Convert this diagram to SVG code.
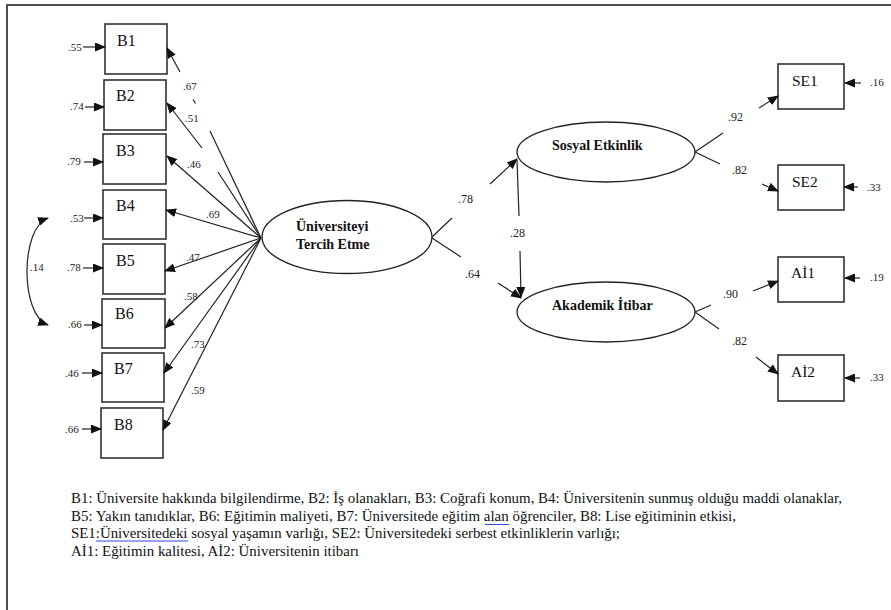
<svg xmlns="http://www.w3.org/2000/svg" width="891" height="610" viewBox="0 0 891 610">
<style>
text{font-family:'Liberation Serif','Tinos','DejaVu Serif','Times New Roman',serif}
.frame{fill:none;stroke:#4d4d4d;stroke-width:2}
.box{fill:#fff;stroke:#333;stroke-width:1.6}
.ell{fill:#fff;stroke:#222;stroke-width:1.3}
.ln{fill:none;stroke:#222;stroke-width:1.2}
.arr{marker-end:url(#ah)}
.bl{font-size:16px;fill:#111}
.lv{font-size:15.5px;fill:#111}
.nm{font-size:11px;fill:#222}
.nr{font-size:12px;fill:#222}
.bd{font-size:14px;font-weight:bold;fill:#111}
.ft{font-size:15px;fill:#111}
.ul{stroke:#3344dd;stroke-width:1}
</style>
<defs>
<marker id="ah" markerUnits="userSpaceOnUse" markerWidth="11" markerHeight="9" refX="10" refY="4.5" orient="auto-start-reverse" viewBox="0 0 11 9">
<path d="M0,0 L11,4.5 L0,9 z" fill="#111"/>
</marker>
</defs>
<path class="frame" d="M7,612 L7,5 L893,5"/>

<g id="B1"><rect class="box" x="105" y="24" width="62" height="50"/><text class="bl" x="117" y="46">B1</text></g>
<g id="B2"><rect class="box" x="104" y="80" width="62" height="50"/><text class="bl" x="116" y="101">B2</text></g>
<g id="B3"><rect class="box" x="103" y="134" width="63" height="50"/><text class="bl" x="116" y="156">B3</text></g>
<g id="B4"><rect class="box" x="103" y="190" width="63" height="49"/><text class="bl" x="116" y="211">B4</text></g>
<g id="B5"><rect class="box" x="103" y="244" width="62" height="50"/><text class="bl" x="116" y="266">B5</text></g>
<g id="B6"><rect class="box" x="102" y="299" width="63" height="49"/><text class="bl" x="115" y="319">B6</text></g>
<g id="B7"><rect class="box" x="102" y="353" width="62" height="49"/><text class="bl" x="114" y="374">B7</text></g>
<g id="B8"><rect class="box" x="101" y="408" width="62" height="50"/><text class="bl" x="114" y="430">B8</text></g>

<g id="UTE"><ellipse class="ell" cx="347" cy="237" rx="85" ry="36.5"/><text class="bd" x="296" y="231">Üniversiteyi</text><text class="bd" x="296" y="249">Tercih Etme</text></g>
<g id="SE"><ellipse class="ell" cx="606" cy="152" rx="89" ry="30"/><text class="bd" x="552" y="150">Sosyal Etkinlik</text></g>
<g id="AI"><ellipse class="ell" cx="606" cy="312" rx="89" ry="30"/><text class="bd" x="552" y="310">Akademik İtibar</text></g>

<g id="SE1"><rect class="box" x="778" y="64" width="66" height="45"/><text class="lv" x="792" y="86">SE1</text></g>
<g id="SE2"><rect class="box" x="778" y="165" width="66" height="45"/><text class="lv" x="792" y="187">SE2</text></g>
<g id="AI1"><rect class="box" x="778" y="257" width="66" height="45"/><text class="lv" x="791" y="278">Aİ1</text></g>
<g id="AI2"><rect class="box" x="778" y="355" width="66" height="46"/><text class="lv" x="791" y="377">Aİ2</text></g>

<g id="connectors">
<line class="ln arr" x1="83" y1="47" x2="105" y2="47"/>
<line class="ln arr" x1="85" y1="107" x2="104" y2="107"/>
<line class="ln arr" x1="84" y1="162" x2="103" y2="162"/>
<line class="ln arr" x1="84" y1="218" x2="103" y2="218"/>
<line class="ln arr" x1="83" y1="268" x2="103" y2="268"/>
<line class="ln arr" x1="84" y1="325" x2="102" y2="325"/>
<line class="ln arr" x1="82" y1="373" x2="102" y2="373"/>
<line class="ln arr" x1="82" y1="429" x2="101" y2="429"/>
<path class="ln" d="M48,218 C20,228 20,315 48,325" marker-start="url(#ah)" marker-end="url(#ah)"/>
<line class="ln" x1="261" y1="238" x2="210" y2="131"/>
<line class="ln" x1="193" y1="99.5" x2="195.5" y2="103.5"/>
<line class="ln arr" x1="180" y1="72" x2="167" y2="48"/>
<line class="ln" x1="261" y1="238" x2="218" y2="172"/>
<line class="ln arr" x1="202" y1="148" x2="167" y2="103"/>
<line class="ln arr" x1="261" y1="238" x2="167" y2="156"/>
<line class="ln arr" x1="261" y1="238" x2="166" y2="210"/>
<line class="ln arr" x1="261" y1="238" x2="165" y2="271"/>
<line class="ln arr" x1="261" y1="238" x2="165" y2="328"/>
<line class="ln arr" x1="261" y1="238" x2="164" y2="373"/>
<line class="ln arr" x1="261" y1="238" x2="163" y2="430"/>
<line class="ln" x1="432" y1="237" x2="452" y2="218"/>
<line class="ln arr" x1="490" y1="184" x2="517" y2="159"/>
<line class="ln" x1="432" y1="238" x2="461" y2="257"/>
<line class="ln arr" x1="498" y1="283" x2="521" y2="298"/>
<line class="ln" x1="517" y1="160" x2="519" y2="216"/>
<line class="ln arr" x1="520" y1="251" x2="521" y2="297"/>
<line class="ln" x1="695" y1="152" x2="723" y2="133"/>
<line class="ln arr" x1="759" y1="108" x2="778" y2="96"/>
<line class="ln" x1="695" y1="152" x2="720" y2="164"/>
<line class="ln arr" x1="762" y1="184" x2="778" y2="191"/>
<line class="ln" x1="695" y1="312" x2="711" y2="305"/>
<line class="ln arr" x1="753" y1="291" x2="778" y2="281"/>
<line class="ln" x1="695" y1="312" x2="719" y2="329"/>
<line class="ln arr" x1="756" y1="357" x2="778" y2="374"/>
<line class="ln arr" x1="861" y1="83" x2="845" y2="83"/>
<line class="ln arr" x1="858" y1="187" x2="844" y2="187"/>
<line class="ln arr" x1="860" y1="278" x2="845" y2="278"/>
<line class="ln arr" x1="860" y1="378" x2="845" y2="378"/>
</g>

<g id="labels">
<text class="nm" x="68" y="51">.55</text>
<text class="nm" x="70" y="110">.74</text>
<text class="nm" x="67" y="165">.79</text>
<text class="nm" x="70" y="222">.53</text>
<text class="nm" x="67" y="271">.78</text>
<text class="nm" x="68" y="328">.66</text>
<text class="nm" x="65" y="377">.46</text>
<text class="nm" x="65" y="433">.66</text>
<text class="nm" x="30" y="271">.14</text>
<text class="nm" x="183" y="90">.67</text>
<text class="nm" x="185" y="122">.51</text>
<text class="nm" x="187" y="168">.46</text>
<text class="nm" x="206" y="218">.69</text>
<text class="nm" x="186" y="261">.47</text>
<text class="nm" x="184" y="300">.58</text>
<text class="nm" x="191" y="348">.73</text>
<text class="nm" x="191" y="394">.59</text>
<text class="nr" x="458" y="203">.78</text>
<text class="nr" x="465" y="278">.64</text>
<text class="nr" x="510" y="237">.28</text>
<text class="nr" x="728" y="121">.92</text>
<text class="nr" x="732" y="174">.82</text>
<text class="nr" x="723" y="298">.90</text>
<text class="nr" x="732" y="345">.82</text>
<text class="nm" x="870" y="86">.16</text>
<text class="nm" x="867" y="191">.33</text>
<text class="nm" x="870" y="281">.19</text>
<text class="nm" x="870" y="381">.33</text>
</g>

<g id="legend">
<text class="ft" x="71" y="503" textLength="771" lengthAdjust="spacingAndGlyphs">B1: Üniversite hakkında bilgilendirme, B2: İş olanakları, B3: Coğrafi konum, B4: Üniversitenin sunmuş olduğu maddi olanaklar,</text>
<text class="ft" x="71" y="521" textLength="665" lengthAdjust="spacingAndGlyphs">B5: Yakın tanıdıklar, B6: Eğitimin maliyeti, B7: Üniversitede eğitim alan öğrenciler, B8: Lise eğitiminin etkisi,</text>
<text class="ft" x="71" y="538" textLength="549" lengthAdjust="spacingAndGlyphs">SE1:Üniversitedeki sosyal yaşamın varlığı, SE2: Üniversitedeki serbest etkinliklerin varlığı;</text>
<text class="ft" x="71" y="556" textLength="288" lengthAdjust="spacingAndGlyphs">Aİ1: Eğitimin kalitesi, Aİ2: Üniversitenin itibarı</text>
<line class="ul" x1="485" y1="524.5" x2="509" y2="524.5"/>
<line class="ul" x1="96" y1="541" x2="188" y2="541"/>
</g>
</svg>
